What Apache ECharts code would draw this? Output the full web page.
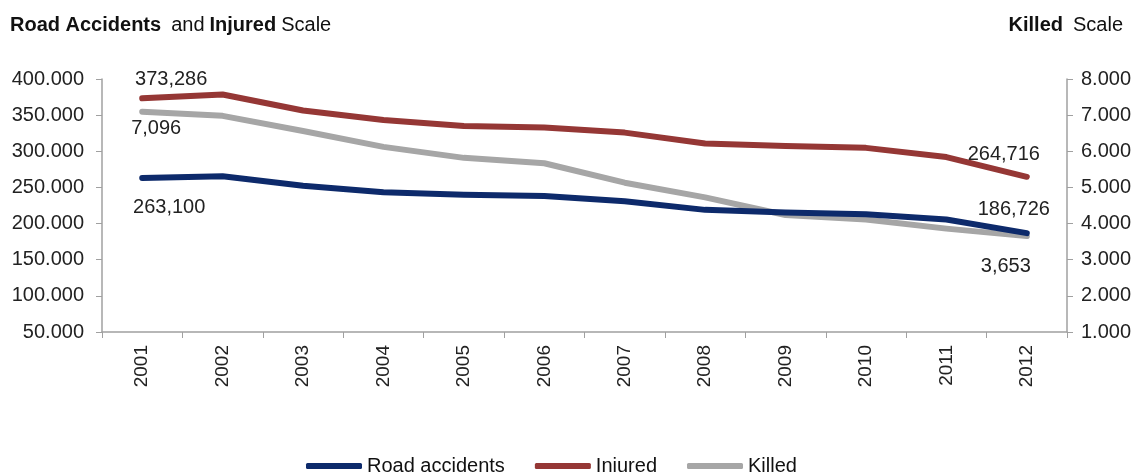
<!DOCTYPE html>
<html><head><meta charset="utf-8">
<script src="https://cdn.jsdelivr.net/npm/echarts@6/dist/echarts.min.js"></script>
<style>html,body{margin:0;padding:0;background:#fff}#c{width:1138px;height:472px}</style>
</head><body><div id="c"></div>
<script>
const years = ['2001','2002','2003','2004','2005','2006','2007','2008','2009','2010','2011','2012'];
const roadAccidents = [263100, 265402, 252271, 243490, 240011, 238124, 230871, 218963, 215405, 212997, 205638, 186726];
const injured = [373286, 378492, 356475, 343179, 334858, 332955, 325850, 310745, 307258, 304720, 292019, 264716];
const killed = [7096, 6980, 6563, 6122, 5818, 5669, 5131, 4725, 4237, 4114, 3860, 3653];
const seriesNames = ['Road accidents', 'Injured', 'Killed'];

const FONT = 'Liberation Sans, Arial, sans-serif';
function dotFmt(v){ return String(Math.round(v)).replace(/\B(?=(\d{3})+(?!\d))/g, '.'); }
function commaFmt(v){ return String(Math.round(v)).replace(/\B(?=(\d{3})+(?!\d))/g, ','); }
function withLabels(arr, specs){
  return arr.map((v,i)=>{
    const s = specs[i];
    if(!s) return v;
    return {value:v, label:{show:true, position:s.pos, offset:s.off, formatter:()=>commaFmt(v),
      fontFamily:FONT, fontSize:20, color:'#222'}};
  });
}
const last = years.length-1;
const richT = {b:{fontFamily:FONT,fontWeight:'bold',fontSize:20,color:'#111'},n:{fontFamily:FONT,fontWeight:'normal',fontSize:20,color:'#111'}};
const chart = echarts.init(document.getElementById('c'));
chart.setOption({
  animation:false,
  title:[
    {left:5, top:10, text:'{b|Road Accidents}  {n|and} {b|Injured} {n|Scale}', textStyle:{fontWeight:'normal', rich:richT}},
    {right:10, top:10, text:'{b|Killed}  {n|Scale}', textStyle:{fontWeight:'normal', rich:richT}}
  ],
  grid:{left:102, right:71, top:79, bottom:140},
  legend:{
    top:451, left:301, itemWidth:56, itemHeight:6, itemGap:30, icon:'roundRect',
    textStyle:{fontFamily:FONT, fontSize:20, color:'#111'},
    data:seriesNames
  },
  xAxis:{
    type:'category', data:years, boundaryGap:true,
    axisLine:{lineStyle:{color:'#a0a0a0', width:1.5}},
    axisTick:{show:true, alignWithLabel:false, length:6, lineStyle:{color:'#a0a0a0'}},
    axisLabel:{rotate:90, margin:13, fontFamily:FONT, fontSize:19, color:'#222'}
  },
  yAxis:[
    {type:'value', min:50000, max:400000, interval:50000, position:'left',
     axisLine:{show:true, lineStyle:{color:'#a0a0a0', width:1.5}},
     axisTick:{show:true, length:6, lineStyle:{color:'#a0a0a0'}},
     splitLine:{show:false},
     axisLabel:{margin:18, fontFamily:FONT, fontSize:20, color:'#222', formatter:dotFmt}},
    {type:'value', min:1000, max:8000, interval:1000, position:'right',
     axisLine:{show:true, lineStyle:{color:'#a0a0a0', width:1.5}},
     axisTick:{show:true, length:6, lineStyle:{color:'#a0a0a0'}},
     splitLine:{show:false},
     axisLabel:{margin:14, fontFamily:FONT, fontSize:20, color:'#222', formatter:dotFmt}}
  ],
  series:[
    {name:seriesNames[0], type:'line', yAxisIndex:0, symbol:'circle', symbolSize:0, showSymbol:true, z:3,
     lineStyle:{color:'#0d2a6b', width:6, cap:'round', join:'round'}, itemStyle:{color:'#0d2a6b'},
     data:withLabels(roadAccidents, {0:{pos:'bottom', off:[27,15]}, [last]:{pos:'top', off:[-13,-9]}})},
    {name:seriesNames[1], type:'line', yAxisIndex:0, symbol:'circle', symbolSize:0, showSymbol:true, z:2,
     lineStyle:{color:'#953735', width:6, cap:'round', join:'round'}, itemStyle:{color:'#953735'},
     data:withLabels(injured, {0:{pos:'top', off:[29,-4]}, [last]:{pos:'top', off:[-23,-7]}})},
    {name:seriesNames[2], type:'line', yAxisIndex:1, symbol:'circle', symbolSize:0, showSymbol:true, z:1,
     lineStyle:{color:'#a6a6a6', width:6, cap:'round', join:'round'}, itemStyle:{color:'#a6a6a6'},
     data:withLabels(killed, {0:{pos:'bottom', off:[14,2]}, [last]:{pos:'bottom', off:[-21,15]}})}
  ]
});
</script></body></html>
